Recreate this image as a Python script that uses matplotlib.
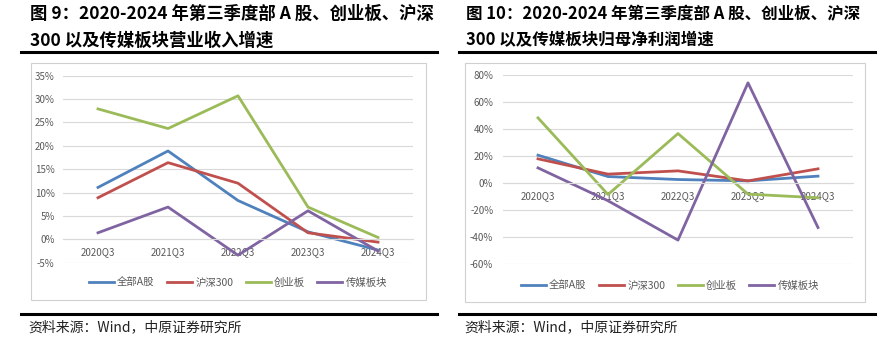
import matplotlib.pyplot as plt
from matplotlib.patches import Rectangle
from matplotlib.lines import Line2D
from matplotlib.ticker import FuncFormatter

plt.rcParams['font.family'] = ['Noto Sans CJK SC', 'DejaVu Sans']

quarters = ['2020Q3', '2021Q3', '2022Q3', '2023Q3', '2024Q3']
series_names = ['全部A股', '沪深300', '创业板', '传媒板块']
colors = ['#4F81BD', '#C0504D', '#9BBB59', '#8064A2']

# 营业收入增速 (%)
rev_all_a = [11.1, 18.9, 8.3, 1.6, -2.3]
rev_hs300 = [8.9, 16.4, 12.0, 1.4, -0.6]
rev_cyb = [27.9, 23.7, 30.7, 6.9, 0.4]
rev_media = [1.4, 6.9, -3.4, 6.1, -2.5]

# 归母净利润增速 (%)
np_all_a = [20.7, 4.9, 2.7, 1.7, 5.2]
np_hs300 = [18.0, 6.7, 9.1, 1.7, 10.6]
np_cyb = [48.3, -8.4, 36.7, -8.1, -10.8]
np_media = [11.3, -13.0, -42.1, 74.2, -32.8]

title_left = '图 9：2020-2024 年第三季度部 A 股、创业板、沪深\n300 以及传媒板块营业收入增速'
title_right = '图 10：2020-2024 年第三季度部 A 股、创业板、沪深\n300 以及传媒板块归母净利润增速'
source = '资料来源：Wind，中原证券研究所'

W, H = 889, 345
fig = plt.figure(figsize=(W / 100, H / 100), dpi=100)


def fx(x):
    return x / W


def fy(y):
    return 1 - y / H


def hline(x0, x1, y, lw):
    fig.add_artist(Line2D([fx(x0), fx(x1)], [fy(y), fy(y)], color='black',
                          lw=lw, transform=fig.transFigure))


def panel(box, area, data, ylim, step, legend_xy, title, tx, lines_x, ypad, tsize):
    # 外框
    bx0, by0, bx1, by1 = box
    fig.add_artist(Rectangle((fx(bx0), fy(by1)), fx(bx1 - bx0), (by1 - by0) / H,
                             transform=fig.transFigure, fill=False,
                             ec='#d0d0d0', lw=0.8))
    x0, y0, x1, y1 = area
    ax = fig.add_axes([fx(x0), fy(y1), fx(x1 - x0), (y1 - y0) / H])
    for vals, c, name in zip(data, colors, series_names):
        ax.plot(range(len(quarters)), vals, color=c, lw=2.0, label=name)
    ax.set_xlim(-0.5, len(quarters) - 0.5)
    ax.set_ylim(*ylim)
    ax.set_yticks(range(ylim[0], ylim[1] + 1, step))
    ax.yaxis.set_major_formatter(FuncFormatter(lambda v, p: f'{v:.0f}%'))
    ax.grid(axis='y', color='#d9d9d9', lw=0.8)
    ax.set_axisbelow(True)
    for s in ['top', 'right', 'left']:
        ax.spines[s].set_visible(False)
    ax.spines['bottom'].set_position(('data', 0))
    ax.spines['bottom'].set_color('#d9d9d9')
    ax.spines['bottom'].set_linewidth(0.8)
    ax.set_xticks(range(len(quarters)))
    ax.set_xticklabels(quarters)
    ax.tick_params(axis='both', length=0, labelsize=7, labelcolor='#595959')
    ax.tick_params(axis='x', pad=5.5)
    ax.tick_params(axis='y', pad=ypad)
    ax.patch.set_alpha(0)
    fig.legend(*ax.get_legend_handles_labels(), loc='center',
               bbox_to_anchor=(fx(legend_xy[0]), fy(legend_xy[1])), ncol=4,
               frameon=False, fontsize=7.5, labelcolor='#595959',
               handlelength=2.4, handletextpad=0.3, columnspacing=1.2)
    fig.text(fx(tx), fy(27), title, fontsize=tsize, fontweight='bold',
             va='center', ha='left', linespacing=1.6)
    hline(lines_x[0], lines_x[1], 51.5, 2.2)
    hline(lines_x[0], lines_x[1], 313.5, 2.2)
    fig.text(fx(tx - 2), fy(327), source, fontsize=10, va='center', ha='left',
             color='#222222')


panel((31, 63, 426, 300), (63, 75.7, 413, 262.7),
      [rev_all_a, rev_hs300, rev_cyb, rev_media], (-5, 35), 5,
      (238, 283), title_left, 30, (21, 437), 6, 12.5)
panel((465, 63, 865, 302), (503, 75, 853, 264.3),
      [np_all_a, np_hs300, np_cyb, np_media], (-60, 80), 20,
      (670, 286), title_right, 466, (459, 875), 7, 11.9)

fig.savefig('out.png', dpi=100)
